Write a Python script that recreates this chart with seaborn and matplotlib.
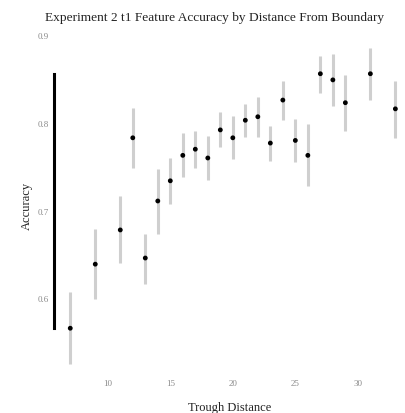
import matplotlib
matplotlib.use("Agg")
import matplotlib.pyplot as plt
import seaborn as sns
import pandas as pd

distance = [7, 9, 11, 12, 13, 14, 15, 16, 17, 18, 19, 20, 21, 22, 23, 24, 25, 26, 27, 28, 29, 31, 33]
accuracy = [0.567, 0.640, 0.679, 0.784, 0.647, 0.712, 0.735, 0.764, 0.771, 0.761, 0.793, 0.784,
            0.804, 0.808, 0.778, 0.827, 0.781, 0.764, 0.857, 0.850, 0.824, 0.857, 0.817]
lower = [0.526, 0.600, 0.641, 0.750, 0.617, 0.674, 0.709, 0.739, 0.750, 0.736, 0.774, 0.760,
         0.785, 0.785, 0.757, 0.804, 0.756, 0.729, 0.835, 0.820, 0.792, 0.827, 0.784]
upper = [0.608, 0.680, 0.718, 0.818, 0.674, 0.749, 0.761, 0.790, 0.792, 0.786, 0.813, 0.809,
         0.823, 0.830, 0.798, 0.849, 0.805, 0.800, 0.877, 0.879, 0.855, 0.886, 0.849]
x_ticks = [10, 15, 20, 25, 30]
y_ticks = [0.6, 0.7, 0.8, 0.9]

df = pd.DataFrame({"distance": distance, "accuracy": accuracy, "lower": lower, "upper": upper})

sns.set_theme(style="white")
plt.rcParams["font.family"] = ["Liberation Serif", "DejaVu Serif"]

fig = plt.figure(figsize=(4.06, 4.13), dpi=100)
W, H = 406, 413
left, right, top, bottom = 54, 406, 32.5, 380
ax = fig.add_axes([left / W, 1 - bottom / H, (right - left) / W, (bottom - top) / H])

ax.vlines(df["distance"], df["lower"], df["upper"], color="#cfcfcf", linewidth=2.2, zorder=1)
sns.scatterplot(data=df, x="distance", y="accuracy", color="black", s=12, edgecolor="none",
                ax=ax, zorder=2, legend=False)

ax.set_xlim(5.7, 33.85)
ax.set_ylim(0.508, 0.904)
ax.set_xticks(x_ticks)
ax.set_xticklabels([str(t) for t in x_ticks])
ax.set_yticks(y_ticks)
ax.set_yticklabels([f"{t:.1f}" for t in y_ticks])
ax.tick_params(axis="both", length=0, labelsize=6.5, colors="#8a8a8a")
ax.tick_params(axis="x", pad=0)
ax.tick_params(axis="y", pad=4)

for s in ["top", "right", "bottom"]:
    ax.spines[s].set_visible(False)
ax.spines["left"].set_visible(True)
ax.spines["left"].set_color("black")
ax.spines["left"].set_linewidth(2.2)
ax.spines["left"].set_bounds(min(accuracy), max(accuracy))

ax.set_xlabel("Trough Distance", fontsize=9, color="#222222", labelpad=10)
ax.set_ylabel("Accuracy", fontsize=9, color="#222222", labelpad=3)
fig.text(0.5 * (55 + 375) / W, 1 - 18 / H, "Experiment 2 t1 Feature Accuracy by Distance From Boundary",
         ha="center", va="center", fontsize=9.6, color="#222222")

fig.savefig("out.png", dpi=100)
